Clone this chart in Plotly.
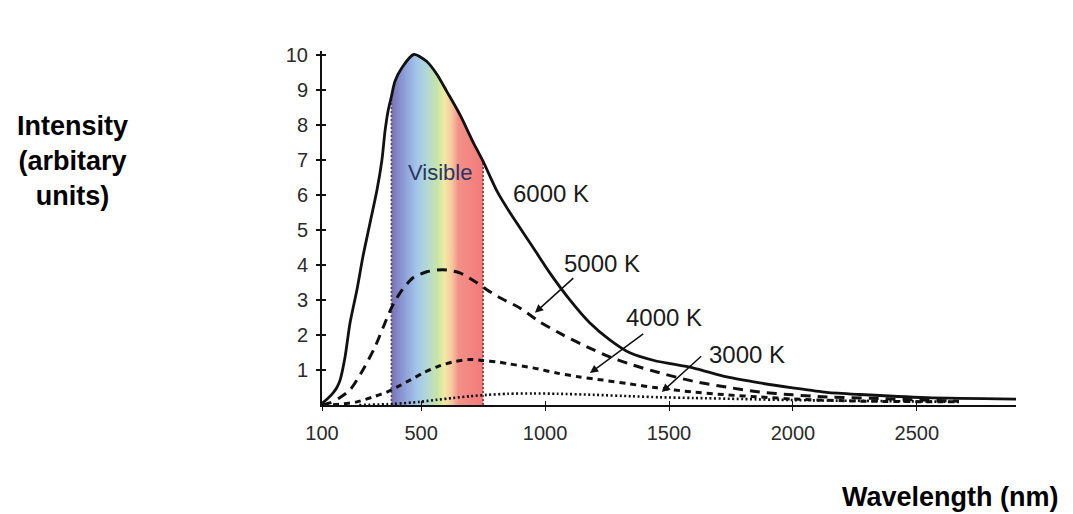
import plotly.graph_objects as go

# ---- data ----
nm_6000 = [100, 122, 144, 160, 173, 193, 213, 241, 265, 294, 322, 342, 354, 366, 380, 394, 423, 470,
           523, 564, 604, 656, 709, 750, 806, 858, 939, 1019, 1100, 1181, 1261, 1342, 1440, 1596,
           1733, 1866, 1999, 2136, 2269, 2540, 2900]
int_6000 = [0.05, 0.18, 0.34, 0.5, 0.71, 1.37, 2.34, 3.29, 4.23, 5.2, 6.14, 7.0, 7.8, 8.37, 8.8, 9.23, 9.63, 10.0,
            9.8, 9.43, 8.94, 8.29, 7.51, 6.95, 6.1, 5.49, 4.63, 3.77, 3.0, 2.34, 1.86, 1.49, 1.27, 1.06,
            0.8, 0.63, 0.49, 0.36, 0.3, 0.21, 0.17]

nm_5000 = [100, 132, 170, 213, 265, 314, 354, 382, 415, 467, 523, 588, 656, 725, 765, 818, 898, 979,
           1072, 1169, 1261, 1354, 1451, 1596, 1733, 1866, 1999, 2136, 2402, 2670]
int_5000 = [0.0, 0.06, 0.2, 0.43, 1.0, 1.66, 2.34, 2.8, 3.2, 3.63, 3.8, 3.86, 3.77, 3.49, 3.29, 3.06, 2.77, 2.37,
            2.0, 1.66, 1.37, 1.14, 0.94, 0.68, 0.51, 0.37, 0.29, 0.23, 0.17, 0.11]

nm_4000 = [100, 170, 241, 306, 362, 402, 455, 507, 564, 628, 697, 749, 806, 858, 951, 1048, 1140, 1233,
           1342, 1451, 1596, 1733, 1866, 1999, 2269, 2670]
int_4000 = [0.0, 0.02, 0.09, 0.23, 0.37, 0.51, 0.71, 0.91, 1.09, 1.23, 1.3, 1.27, 1.23, 1.17, 1.06, 0.91, 0.8, 0.71,
            0.6, 0.49, 0.37, 0.29, 0.23, 0.17, 0.11, 0.09]

nm_3000 = [250, 386, 495, 564, 628, 697, 765, 850, 950, 1050, 1200, 1350, 1463, 1600, 1800, 2000, 2250, 2670]
int_3000 = [0.0, 0.03, 0.09, 0.15, 0.2, 0.25, 0.29, 0.32, 0.33, 0.32, 0.29, 0.25, 0.22, 0.2, 0.17, 0.14, 0.12, 0.09]

visible_range = [380, 750]
x_ticks = [100, 500, 1000, 1500, 2000, 2500]
y_ticks = [1, 2, 3, 4, 5, 6, 7, 8, 9, 10]

curve_labels = ["6000 K", "5000 K", "4000 K", "3000 K"]

FONT = "Liberation Sans, Arial, Helvetica, sans-serif"
SMOOTH = 0.7

fig = go.Figure()

# visible band: gradient under the 6000 K curve
band_idx = [i for i, v in enumerate(nm_6000) if visible_range[0] <= v <= visible_range[1]]
band_x = [nm_6000[i] for i in band_idx]
band_y = [int_6000[i] for i in band_idx]
fig.add_trace(go.Scatter(
    x=band_x, y=band_y, mode="lines", line=dict(width=0, shape="spline", smoothing=SMOOTH),
    fill="tozeroy",
    fillgradient=dict(type="horizontal", colorscale=[
        [0.0, "#7a70b2"], [0.12, "#8a98d4"], [0.28, "#a4c6ea"], [0.40, "#b4dad2"],
        [0.50, "#c6e4a6"], [0.58, "#f2eaa2"], [0.66, "#f8c6a0"], [0.73, "#f49088"],
        [1.0, "#f27a7a"]]),
    hoverinfo="skip", showlegend=False))

# band edges (dotted)
fig.add_trace(go.Scatter(x=[visible_range[0]] * 2, y=[0, band_y[0]], mode="lines",
                         line=dict(color="#4c4a78", width=1.6, dash="2px,2px"),
                         hoverinfo="skip", showlegend=False))
fig.add_trace(go.Scatter(x=[visible_range[1]] * 2, y=[0, band_y[-1]], mode="lines",
                         line=dict(color="#7a3434", width=1.6, dash="2px,2px"),
                         hoverinfo="skip", showlegend=False))

# curves
fig.add_trace(go.Scatter(x=nm_3000, y=int_3000, mode="lines", name="3000 K",
                         line=dict(color="#111111", width=2.6, dash="2px,2.5px", shape="spline", smoothing=SMOOTH)))
fig.add_trace(go.Scatter(x=nm_4000, y=int_4000, mode="lines", name="4000 K",
                         line=dict(color="#111111", width=3, dash="6px,5px", shape="spline", smoothing=SMOOTH)))
fig.add_trace(go.Scatter(x=nm_5000, y=int_5000, mode="lines", name="5000 K",
                         line=dict(color="#111111", width=3, dash="10px,7px", shape="spline", smoothing=SMOOTH)))
fig.add_trace(go.Scatter(x=nm_6000, y=int_6000, mode="lines", name="6000 K",
                         line=dict(color="#111111", width=2.8, shape="spline", smoothing=SMOOTH)))

# dummy trace for crossing ticks
fig.add_trace(go.Scatter(x=[], y=[], xaxis="x2", yaxis="y2", showlegend=False, hoverinfo="skip"))

x_range = [100, 2900]
y_range = [0, 10.1]

fig.update_layout(
    width=1073, height=514,
    paper_bgcolor="white", plot_bgcolor="white",
    margin=dict(l=322, r=57, t=51, b=109),
    showlegend=False,
    font=dict(family=FONT, color="#222222"),
    xaxis=dict(range=x_range, tickvals=x_ticks, ticktext=[str(v) for v in x_ticks],
               showgrid=False, zeroline=False, showline=True, linecolor="#111111", linewidth=1.6,
               ticks="outside", ticklen=4, tickwidth=1.3, tickcolor="#111111",
               tickfont=dict(size=20, color="#2a2a2a", family=FONT), ticklabelstandoff=5),
    yaxis=dict(range=y_range, tickvals=y_ticks, ticktext=[str(v) for v in y_ticks],
               showgrid=False, zeroline=False, showline=True, linecolor="#111111", linewidth=2,
               ticks="outside", ticklen=4, tickwidth=1.6, tickcolor="#111111",
               tickfont=dict(size=20, color="#2a2a2a", family=FONT), ticklabelstandoff=4),
    xaxis2=dict(range=x_range, overlaying="x", anchor="y", tickvals=x_ticks, showticklabels=False,
                showgrid=False, zeroline=False, showline=False,
                ticks="inside", ticklen=4, tickwidth=1.3, tickcolor="#111111"),
    yaxis2=dict(range=y_range, overlaying="y", anchor="x", tickvals=y_ticks, showticklabels=False,
                showgrid=False, zeroline=False, showline=False,
                ticks="inside", ticklen=4, tickwidth=1.6, tickcolor="#111111"),
)

label_font = dict(family=FONT, size=24, color="#1a1a1a")
annotations = [
    dict(x=1023, y=6.03, text=curve_labels[0]),
    dict(x=1229, y=4.03, text=curve_labels[1]),
    dict(x=1479, y=2.51, text=curve_labels[2]),
    dict(x=1814, y=1.43, text=curve_labels[3]),
]
for a in annotations:
    fig.add_annotation(x=a["x"], y=a["y"], xref="x", yref="y", text=a["text"],
                       showarrow=False, font=label_font, xanchor="center", yanchor="middle")

# arrows (tail -> tip)
arrows = [
    ((1120, 3.66), (959, 2.63)),
    ((1402, 2.06), (1181, 0.91)),
    ((1636, 1.43), (1471, 0.37)),
]
for (tx, ty), (hx, hy) in arrows:
    fig.add_annotation(x=hx, y=hy, ax=tx, ay=ty, xref="x", yref="y", axref="x", ayref="y",
                       text="", showarrow=True, arrowhead=2, arrowsize=1.1, arrowwidth=1.5,
                       arrowcolor="#111111")

fig.add_annotation(x=576, y=6.63, xref="x", yref="y", text="Visible", showarrow=False,
                   font=dict(family=FONT, size=22, color="#2c3468"))

fig.add_annotation(x=-0.36, y=0.69, xref="paper", yref="paper",
                   text="<b>Intensity<br>(arbitary<br>units)</b>", showarrow=False,
                   align="center", xanchor="center", yanchor="middle",
                   font=dict(family=FONT, size=27, color="#000000"))
fig.add_annotation(x=0.905, y=-0.26, xref="paper", yref="paper",
                   text="<b>Wavelength (nm)</b>", showarrow=False,
                   xanchor="center", yanchor="middle",
                   font=dict(family=FONT, size=27, color="#000000"))

fig.write_html("out.html", config={"displayModeBar": False},
               post_script="document.body.style.margin='0px';document.body.style.overflow='hidden';")
